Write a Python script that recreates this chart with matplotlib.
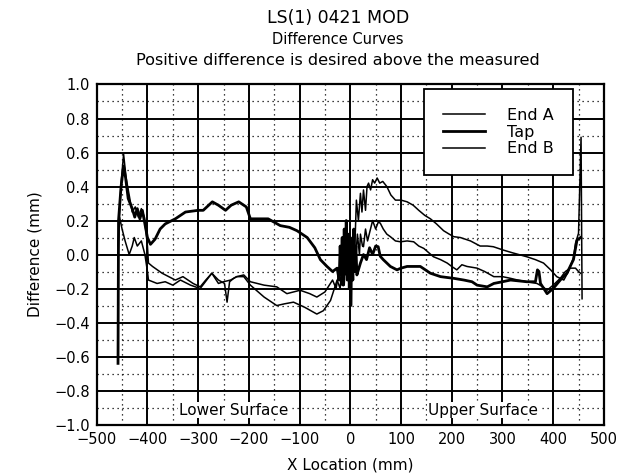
"""Difference curves LS(1) 0421 MOD: End A / Tap / End B along the X location."""
import matplotlib
matplotlib.use("Agg")
import matplotlib.pyplot as plt

# End A (thin): upper curve on the right side
end_a_x = [-458, -452, -447, -442, -436, -430, -424, -418, -412, -406, -400, -398,
           -390, -371, -345, -330, -310, -296, -285, -273, -260, -248, -243, -238,
           -230, -224, -210, -197, -170, -145, -125, -99, -80, -66, -50, -35, -28,
           -22, -18, -14, -10, -6, -3, 0, 3, 6, 9, 12, 16, 20, 23, 26, 30, 33, 36,
           40, 44, 48, 53, 58, 64, 72, 80, 89, 100, 112, 124, 135, 147, 158, 170,
           184, 195, 204, 217, 237, 256, 270, 282, 302, 320, 348, 365, 381, 395,
           407, 421, 430, 440, 444, 450, 455, 457]
end_a_y = [0.05, 0.42, 0.59, 0.45, 0.35, 0.25, 0.28, 0.22, 0.27, 0.22, 0.05, -0.05,
           -0.07, -0.11, -0.15, -0.13, -0.17, -0.19, -0.15, -0.11, -0.15, -0.17, -0.28, -0.16,
           -0.14, -0.13, -0.12, -0.16, -0.18, -0.19, -0.23, -0.21, -0.23, -0.25, -0.22, -0.15, -0.2,
           -0.1, -0.18, 0.0, -0.12, 0.08, -0.05, 0.1, -0.1, 0.15, 0.05, 0.32, 0.2, 0.36, 0.25, 0.38, 0.26, 0.4, 0.42,
           0.38, 0.44, 0.42, 0.45, 0.42, 0.43, 0.40, 0.35, 0.32, 0.32, 0.31, 0.29, 0.26, 0.23, 0.21, 0.18,
           0.14, 0.12, 0.105, 0.1, 0.08, 0.05, 0.05, 0.046, 0.026, 0.01, -0.013, -0.03, -0.05, -0.09,
           -0.13, -0.15, -0.1, -0.02, 0.066, 0.125, 0.69, -0.26]

# Tap (thick): plateau on the left, lowest curve on the right
tap_x = [-458, -457, -452, -447, -443, -438, -430, -425, -420, -415, -410, -405, -400,
         -394, -385, -375, -365, -345, -325, -300, -290, -272, -260, -246, -235, -220,
         -205, -197, -162, -138, -120, -105, -85, -70, -59, -46, -35, -26, -22, -20, -18,
         -16, -14, -12, -10, -8, -6, -4, -2, 0, 1, 3, 5, 7, 9, 11, 13, 15, 20, 26, 32,
         38, 44, 50, 55, 59, 65, 72, 79, 92, 100, 112, 125, 138, 148, 158, 178, 204, 224,
         240, 250, 270, 283, 300, 316, 348, 365, 369, 372, 375, 388, 400, 414, 427, 440,
         447, 454]
tap_y = [-0.64, 0.2, 0.4, 0.52, 0.45, 0.33, 0.27, 0.22, 0.27, 0.21, 0.26, 0.18, 0.1,
         0.06, 0.09, 0.15, 0.18, 0.21, 0.25, 0.26, 0.26, 0.31, 0.29, 0.26, 0.29, 0.31,
         0.28, 0.21, 0.21, 0.17, 0.16, 0.14, 0.10, 0.04, -0.03, -0.07, -0.1, -0.08, -0.15, 0.05, -0.12,
         0.1, -0.18, 0.15, -0.1, 0.2, -0.15, 0.12, -0.2, 0.1, -0.3, 0.05, -0.15, 0.15, -0.1, 0.05, -0.12, -0.1, -0.05, 0.0, -0.03,
         0.04, 0.0, 0.05, 0.046, -0.01, -0.03, -0.05, -0.07, -0.09, -0.08, -0.07, -0.07, -0.07, -0.09, -0.11, -0.13, -0.14, -0.15,
         -0.16, -0.18, -0.19, -0.17, -0.16, -0.15, -0.16, -0.16, -0.09, -0.1, -0.17, -0.23, -0.2, -0.15, -0.11, -0.03,
         0.085, 0.1]

# End B (thin): lowest on the left, middle on the right
end_b_x = [-458, -455, -450, -444, -436, -430, -426, -420, -412, -405, -400, -398,
           -381, -365, -350, -335, -315, -296, -273, -260, -250, -236, -224, -210, -197,
           -170, -145, -130, -112, -90, -66, -53, -39, -26, -20, -16, -12, -8, -5, -2,
           0, 3, 6, 10, 14, 18, 20, 24, 26, 30, 34, 39, 44, 50, 55, 59, 65, 72, 79, 89,
           99, 112, 125, 135, 145, 155, 164, 178, 191, 200, 210, 220, 230, 250, 265, 283,
           300, 316, 330, 348, 368, 380, 388, 400, 414, 424, 434, 444, 450, 454]
end_b_y = [0.0, 0.22, 0.15, 0.08, 0.0, 0.05, 0.1, 0.05, 0.08, 0.0, -0.1, -0.15,
           -0.17, -0.16, -0.18, -0.15, -0.18, -0.2, -0.11, -0.17, -0.16, -0.15, -0.13, -0.13, -0.18,
           -0.25, -0.30, -0.29, -0.28, -0.31, -0.35, -0.33, -0.27, -0.15, -0.2, -0.05, -0.18, 0.05, -0.1, 0.1,
           0.0, -0.15, 0.1, -0.05, 0.12, 0.0, 0.12, 0.05, 0.046, 0.15, 0.08, 0.14, 0.2, 0.15, 0.19, 0.185, 0.15, 0.12, 0.105, 0.08,
           0.075, 0.08, 0.075, 0.05, 0.036, 0.01, -0.013, -0.03, -0.05, -0.07, -0.09, -0.06, -0.07, -0.08, -0.1, -0.13,
           -0.13, -0.14, -0.15, -0.16, -0.17, -0.19, -0.21, -0.18, -0.14, -0.1, -0.08, -0.08, -0.1, -0.11]

x_ticks = [-500, -400, -300, -200, -100, 0, 100, 200, 300, 400, 500]
y_ticks = [-1.0, -0.8, -0.6, -0.4, -0.2, 0.0, 0.2, 0.4, 0.6, 0.8, 1.0]

fig = plt.figure(figsize=(6.2, 4.76), dpi=100)
ax = fig.add_axes([0.156, 0.108, 0.818, 0.7145])

# grid: solid majors, sparse dotted minors
for v in range(-450, 500, 100):
    ax.axvline(v, color="k", lw=0.9, ls=(0, (1, 3)), zorder=1)
for v in [-0.9, -0.7, -0.5, -0.3, -0.1, 0.1, 0.3, 0.5, 0.7, 0.9]:
    ax.axhline(v, color="k", lw=0.9, ls=(0, (1, 3)), zorder=1)
for v in x_ticks[1:-1]:
    ax.axvline(v, color="k", lw=1.4, zorder=1)
for v in y_ticks[1:-1]:
    ax.axhline(v, color="k", lw=1.4, zorder=1)

ax.plot(end_a_x, end_a_y, color="k", lw=1.1, label="End A", zorder=3)
ax.plot(tap_x, tap_y, color="k", lw=2.0, label="Tap", zorder=3)
ax.plot(end_b_x, end_b_y, color="k", lw=1.1, label="End B", zorder=3)

ax.set_xlim(-500, 500); ax.set_ylim(-1.0, 1.0)
ax.set_xticks(x_ticks); ax.set_yticks(y_ticks)
ax.set_yticklabels([f"{v:.1f}".replace("-", "\u2212") for v in y_ticks])
ax.tick_params(length=0, labelsize=10.5, pad=5)
for s in ax.spines.values():
    s.set_linewidth(1.6)

ax.set_xlabel("X Location (mm)", fontsize=11, labelpad=8)
ax.set_ylabel("Difference (mm)", fontsize=11, labelpad=8)

leg = ax.legend(loc="upper right", bbox_to_anchor=(0.939, 0.987), borderaxespad=0,
                fontsize=11.5, frameon=True, fancybox=False, edgecolor="k", framealpha=1,
                handlelength=2.6, borderpad=1.2, labelspacing=0.1, handletextpad=1.4)
leg.get_frame().set_linewidth(1.3)
leg.set_zorder(5)

box = dict(facecolor="white", edgecolor="none", pad=0.5)
ax.text(-230, -0.915, "Lower Surface", ha="center", va="center", fontsize=11, bbox=box, zorder=4)
ax.text(262, -0.915, "Upper Surface", ha="center", va="center", fontsize=11, bbox=box, zorder=4)

fig.text(0.545, 0.962, "LS(1) 0421 MOD", ha="center", va="center", fontsize=12.5)
fig.text(0.545, 0.916, "Difference Curves", ha="center", va="center", fontsize=10.5)
fig.text(0.545, 0.873, "Positive difference is desired above the measured", ha="center", va="center", fontsize=11.6)

fig.savefig("out.png", dpi=100)
